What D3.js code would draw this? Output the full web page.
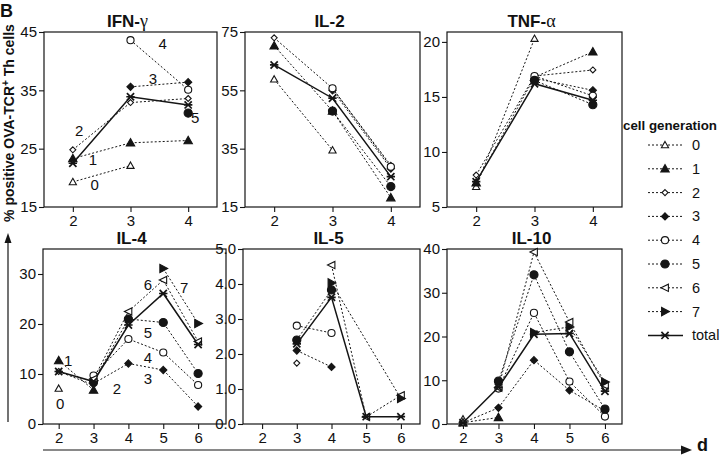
<!DOCTYPE html>
<html><head><meta charset="utf-8">
<script src="https://cdn.jsdelivr.net/npm/d3@7"></script>
<style>
body{margin:0;background:#fff}
svg{display:block}
text{font-family:"Liberation Sans",Arial,Helvetica,sans-serif;fill:#111}
</style>
</head><body>
<svg id="chart" width="720" height="457"></svg>
<script>
// ---------------- data ----------------
const daysTop = [2, 3, 4];
const daysBottom = [2, 3, 4, 5, 6];
const seriesNames = ["0", "1", "2", "3", "4", "5", "6", "7", "total"];

// rows: generation 0..7, then total
const ifnGamma = [
  [19.3, 22.1, null],
  [23.3, 26.0, 26.4],
  [24.8, 32.9, 33.6],
  [null, 35.6, 36.4],
  [null, 43.6, 35.1],
  [null, null, 31.1],
  [null, null, null],
  [null, null, null],
  [22.5, 33.9, 32.5]
];
const il2 = [
  [58.8, 34.5, null],
  [70.3, 47.9, 18.2],
  [73.0, 55.7, 29.3],
  [null, 55.0, 28.2],
  [null, 55.7, 28.8],
  [null, 47.9, 22.0],
  [null, null, null],
  [null, null, null],
  [63.7, 52.3, 25.4]
];
const tnfAlpha = [
  [6.85, 20.3, null],
  [7.2, 16.8, 19.1],
  [7.9, 16.9, 17.45],
  [null, 16.7, 15.6],
  [null, 16.9, 15.1],
  [null, 16.5, 14.3],
  [null, null, null],
  [null, null, null],
  [7.3, 16.2, 14.7]
];
const il4 = [
  [7.1, null, null, null, null],
  [12.7, 6.8, null, null, null],
  [10.5, 7.8, null, null, null],
  [null, 8.1, 12.1, 10.8, 3.5],
  [null, 9.7, 17.0, 14.3, 7.8],
  [null, 8.5, 21.0, 20.3, 10.1],
  [null, 9.0, 22.5, 28.8, 16.5],
  [null, null, null, 31.1, 20.1],
  [10.5, 8.5, 19.8, 26.1, 15.9]
];
const il5 = [
  [null, null, null, null, null],
  [null, null, null, null, null],
  [null, 1.74, null, null, null],
  [null, 2.1, 1.63, null, null],
  [null, 2.81, 2.6, null, null],
  [null, 2.4, 3.83, null, null],
  [null, null, 4.54, 0.2, 0.82],
  [null, null, 4.03, null, 0.73],
  [null, 2.29, 3.62, 0.21, 0.21]
];
const il10 = [
  [1.1, null, null, null, null],
  [0.3, 1.5, null, null, null],
  [0.3, 3.7, null, null, null],
  [null, 3.7, 14.6, 7.7, 3.0],
  [null, 8.1, 25.4, 9.7, 1.7],
  [null, 9.8, 34.1, 16.5, 3.4],
  [null, 8.3, 39.3, 23.3, 8.8],
  [null, null, 20.9, 22.2, 9.6],
  [0.3, 8.4, 20.5, 20.7, 7.5]
];

const ticksIFN = [15, 25, 35, 45];
const ticksIL2 = [15, 35, 55, 75];
const ticksTNF = [5, 10, 15, 20];
const ticksIL4 = [0, 10, 20, 30];
const ticksIL5 = [0, 1, 2, 3, 4, 5];
const ticksIL10 = [0, 10, 20, 30, 40];

// in-plot generation annotations [text, day, value]
const ifnNotes = [["0", 2.38, 18.8], ["1", 2.35, 23.2], ["2", 2.11, 28.2], ["3", 3.39, 37.1], ["4", 3.56, 43.1], ["5", 4.12, 30.3]];
const il4Notes = [["1", 2.27, 12.8], ["0", 2.04, 4.2], ["2", 3.67, 7.2], ["3", 4.56, 9.2], ["4", 4.56, 13.4], ["5", 4.56, 18.4], ["6", 4.56, 28.0], ["7", 5.6, 27.4]];

// ---------------- layout ----------------
const panels = [
  {title: "IFN-", greek: "\u03B3", days: daysTop, values: ifnGamma, yDomain: [15, 45], yTicks: ticksIFN, xDomain: [1.5, 4.5], xTicks: daysTop, box: [44, 32, 217, 207], notes: ifnNotes},
  {title: "IL-2", greek: "", days: daysTop, values: il2, yDomain: [15, 75], yTicks: ticksIL2, xDomain: [1.5, 4.5], xTicks: daysTop, box: [245, 32, 420, 207], notes: []},
  {title: "TNF-", greek: "\u03B1", days: daysTop, values: tnfAlpha, yDomain: [5, 20.9], yTicks: ticksTNF, xDomain: [1.5, 4.5], xTicks: daysTop, box: [447, 32, 622, 207], notes: []},
  {title: "IL-4", greek: "", days: daysBottom, values: il4, yDomain: [0, 35], yTicks: ticksIL4, xDomain: [1.55, 6.8], xTicks: daysBottom, box: [43, 249, 226, 424], notes: il4Notes},
  {title: "IL-5", greek: "", days: daysBottom, values: il5, yDomain: [0, 5], yTicks: ticksIL5, xDomain: [1.45, 6.55], xTicks: daysBottom, box: [243, 249, 420, 424], notes: []},
  {title: "IL-10", greek: "", days: daysBottom, values: il10, yDomain: [0, 40], yTicks: ticksIL10, xDomain: [1.55, 6.48], xTicks: daysBottom, box: [447, 249, 622, 424], notes: []}
];

const ink = "#151515";
const markerShapes = [
  {d: "M0,-3.6L3.6,2.8L-3.6,2.8Z", fill: "#fff"},
  {d: "M0,-4.2L4.2,3.2L-4.2,3.2Z", fill: ink},
  {d: "M0,-3L3,0L0,3L-3,0Z", fill: "#fff"},
  {d: "M0,-3.6L3.6,0L0,3.6L-3.6,0Z", fill: ink},
  {d: d3.symbol(d3.symbolCircle, 40)(), fill: "#fff"},
  {d: d3.symbol(d3.symbolCircle, 52)(), fill: ink},
  {d: "M-4,0L3.4,-3.6L3.4,3.6Z", fill: "#fff"},
  {d: "M4.4,0L-3.4,-4.2L-3.4,4.2Z", fill: ink},
  {d: "M-3.6,-3.6L3.6,3.6M-3.6,3.6L3.6,-3.6M-4.2,0L4.2,0", fill: "none"}
];

const svg = d3.select("#chart");

function drawMarker(g, i) {
  const m = markerShapes[i];
  return g.append("path").attr("d", m.d)
    .attr("fill", m.fill).attr("stroke", ink)
    .attr("stroke-width", i === 8 ? 1.7 : 1.1);
}

panels.forEach(p => {
  const [x0, y0, x1, y1] = p.box;
  const x = d3.scaleLinear().domain(p.xDomain).range([x0, x1]);
  const y = d3.scaleLinear().domain(p.yDomain).range([y1, y0]);
  const g = svg.append("g");

  // axes
  const ya = g.append("g").attr("transform", `translate(${x0},0)`)
    .call(d3.axisLeft(y).tickValues(p.yTicks).tickSize(5).tickPadding(2));
  const xa = g.append("g").attr("transform", `translate(0,${y1})`)
    .call(d3.axisBottom(x).tickValues(p.xTicks).tickSize(5).tickPadding(3).tickFormat(d3.format("d")));
  [ya, xa].forEach(a => {
    a.select(".domain").remove();
    a.selectAll("line").attr("stroke", ink).attr("stroke-width", 1.1);
    a.selectAll("text").attr("font-size", 15).attr("fill", "#111")
      .attr("font-family", '"Liberation Sans",Arial,sans-serif');
  });

  g.append("rect").attr("x", x0).attr("y", y0).attr("width", x1 - x0).attr("height", y1 - y0)
    .attr("fill", "none").attr("stroke", ink).attr("stroke-width", 1.2);

  // title
  const t = g.append("text").attr("x", (x0 + x1) / 2 - 3).attr("y", y0 - 5)
    .attr("text-anchor", "middle").attr("font-size", 17).attr("font-weight", "bold").text(p.title);
  if (p.greek) t.append("tspan").attr("font-family", '"Liberation Serif","Times New Roman",serif')
    .attr("font-weight", "normal").attr("font-size", 18).text(p.greek);

  // series lines
  const line = d3.line().x(d => x(d[0])).y(d => y(d[1]));
  p.values.forEach((row, i) => {
    const pts = p.days.map((d, k) => [d, row[k]]).filter(d => d[1] !== null);
    if (pts.length > 1) {
      g.append("path").attr("d", line(pts)).attr("fill", "none")
        .attr("stroke", ink)
        .attr("stroke-width", i === 8 ? 1.5 : 1)
        .attr("stroke-dasharray", i === 8 ? null : "2,2");
    }
  });
  // markers
  p.values.forEach((row, i) => {
    p.days.forEach((d, k) => {
      if (row[k] === null) return;
      drawMarker(g, i).attr("transform", `translate(${x(d)},${y(row[k])})`);
    });
  });
  // annotations
  p.notes.forEach(n => {
    g.append("text").attr("x", x(n[1])).attr("y", y(n[2]))
      .attr("text-anchor", "middle").attr("dominant-baseline", "central")
      .attr("font-size", 15).text(n[0]);
  });
});

// panel letter
svg.append("text").attr("x", 0).attr("y", 17).attr("font-size", 18).attr("font-weight", "bold").text("B");

// y label
const yl = svg.append("text").attr("transform", "translate(14,123) rotate(-90)")
  .attr("text-anchor", "middle").attr("font-size", 14).attr("font-weight", "bold");
yl.append("tspan").text("% positive OVA-TCR");
yl.append("tspan").attr("font-size", 10).attr("dy", -5).text("+");
yl.append("tspan").attr("dy", 5).text(" Th cells");

// arrows
svg.append("line").attr("x1", 8).attr("x2", 8).attr("y1", 422).attr("y2", 240).attr("stroke", ink).attr("stroke-width", 1.2);
svg.append("path").attr("d", "M8,233L4.5,243L11.5,243Z").attr("fill", ink);
svg.append("line").attr("x1", 43).attr("x2", 684).attr("y1", 450).attr("y2", 450).attr("stroke", ink).attr("stroke-width", 1.2);
svg.append("path").attr("d", "M692,450L681,445.5L681,454.5Z").attr("fill", ink);
svg.append("text").attr("x", 697).attr("y", 451).attr("font-size", 18).attr("font-weight", "bold").text("d");

// legend
const lg = svg.append("g");
lg.append("text").attr("x", 623).attr("y", 130).attr("font-size", 13.5).attr("font-weight", "bold")
  .attr("textLength", 94).attr("lengthAdjust", "spacingAndGlyphs").text("cell generation");
seriesNames.forEach((name, i) => {
  const cy = 145 + i * 23.8;
  lg.append("line").attr("x1", 648).attr("x2", 683).attr("y1", cy).attr("y2", cy)
    .attr("stroke", ink).attr("stroke-width", i === 8 ? 1.5 : 1)
    .attr("stroke-dasharray", i === 8 ? null : "2,2");
  drawMarker(lg, i).attr("transform", `translate(665,${cy})`);
  lg.append("text").attr("x", 692).attr("y", cy).attr("dominant-baseline", "central")
    .attr("font-size", 14.5).text(name);
});
</script>
</body></html>
